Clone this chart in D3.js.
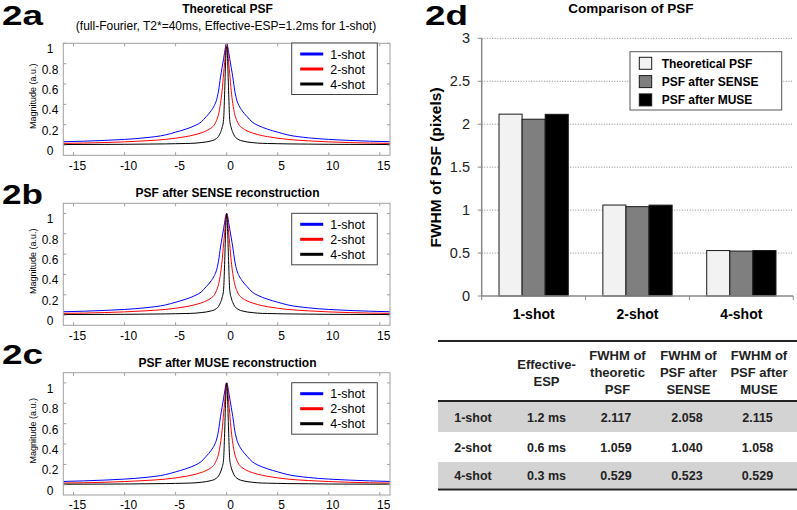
<!DOCTYPE html>
<html>
<head>
<meta charset="utf-8">
<script src="https://cdn.jsdelivr.net/npm/d3@7"></script>
<style>
  body { margin: 0; background: #fff; }
  svg { display: block; font-family: 'Liberation Sans', Arial, sans-serif; }
</style>
</head>
<body>
<svg id="fig" width="797" height="510"></svg>
<script>
// PSF profiles (same shape in all three panels)
const PSF_X = [-16, -12, -10, -8, -6, -5, -4, -3, -2.5, -2, -1.5, -1.2, -1, -0.8, -0.6, -0.45, -0.3, -0.2, -0.1, 0,
               0.1, 0.2, 0.3, 0.45, 0.6, 0.8, 1, 1.2, 1.5, 2, 2.5, 3, 4, 5, 6, 8, 10, 12, 16];
const PSF_1SHOT = [0.033, 0.046, 0.056, 0.072, 0.1, 0.127, 0.157, 0.197, 0.227, 0.28, 0.34, 0.39, 0.44, 0.53, 0.67, 0.76, 0.85, 0.91, 0.97, 1.0,
                   0.97, 0.91, 0.85, 0.76, 0.67, 0.53, 0.44, 0.39, 0.34, 0.28, 0.227, 0.197, 0.157, 0.127, 0.1, 0.072, 0.056, 0.046, 0.033];
const PSF_2SHOT = [0.017, 0.025, 0.032, 0.042, 0.056, 0.068, 0.083, 0.105, 0.12, 0.14, 0.17, 0.2, 0.24, 0.3, 0.41, 0.53, 0.7, 0.81, 0.93, 1.0,
                   0.93, 0.81, 0.7, 0.53, 0.41, 0.3, 0.24, 0.2, 0.17, 0.14, 0.12, 0.105, 0.083, 0.068, 0.056, 0.042, 0.032, 0.025, 0.017];
const PSF_4SHOT = [0.006, 0.007, 0.008, 0.01, 0.012, 0.014, 0.016, 0.02, 0.025, 0.031, 0.042, 0.052, 0.065, 0.085, 0.125, 0.17, 0.25, 0.5, 0.82, 1.0,
                   0.82, 0.5, 0.25, 0.17, 0.125, 0.085, 0.065, 0.052, 0.042, 0.031, 0.025, 0.02, 0.016, 0.014, 0.012, 0.01, 0.008, 0.007, 0.006];

const SHOTS = ['1-shot', '2-shot', '4-shot'];
const SHOT_COLORS = ['#0000ff', '#ff0000', '#000000'];
const X_TICKS = [-15, -10, -5, 0, 5, 10, 15];
const Y_TICKS = [0, 0.2, 0.4, 0.6, 0.8, 1];

// FWHM comparison (bar chart + table)
const METHODS = ['Theoretical PSF', 'PSF after SENSE', 'PSF after MUSE'];
const METHOD_FILLS = ['#f2f2f2', '#7f7f7f', '#000000'];
const FWHM_THEORY = [2.117, 1.059, 0.529];
const FWHM_SENSE = [2.058, 1.040, 0.523];
const FWHM_MUSE = [2.115, 1.058, 0.529];
const EFF_ESP = ['1.2 ms', '0.6 ms', '0.3 ms'];
const BAR_TICKS = [0, 0.5, 1, 1.5, 2, 2.5, 3];

const svg = d3.select('#fig');

// ---------- line panels 2a / 2b / 2c ----------
const PANELS = [
  { tag: '2a', tagY: 25, title: 'Theoretical PSF', titleY: 13,
    sub: '(full-Fourier, T2*=40ms, Effective-ESP=1.2ms for 1-shot)', subY: 29.5,
    top: 43.3, bottom: 155.3, ydom: [-0.1, 1], legTop: 43, xlab: 15 },
  { tag: '2b', tagY: 204, title: 'PSF after SENSE reconstruction', titleY: 197,
    top: 203.3, bottom: 325.3, ydom: [-0.1, 1.1], legTop: 213.3, xlab: 15 },
  { tag: '2c', tagY: 364, title: 'PSF after MUSE reconstruction', titleY: 366.5,
    top: 372.7, bottom: 495, ydom: [-0.1, 1.1], legTop: 382.7, xlab: 13.5 },
];
const L = 63.3, R = 390;
const series = [PSF_1SHOT, PSF_2SHOT, PSF_4SHOT];

PANELS.forEach(p => {
  const g = svg.append('g');
  const x = d3.scaleLinear().domain([-16, 16]).range([L, R]);
  const y = d3.scaleLinear().domain(p.ydom).range([p.bottom, p.top]);

  g.append('text').attr('x', 2).attr('y', p.tagY)
    .attr('font-size', 28).attr('font-weight', 'bold')
    .attr('textLength', 41).attr('lengthAdjust', 'spacingAndGlyphs').text(p.tag);
  g.append('text').attr('x', 227.5).attr('y', p.titleY).attr('text-anchor', 'middle')
    .attr('font-size', 12).attr('font-weight', 'bold').text(p.title);
  if (p.sub) {
    g.append('text').attr('x', 226).attr('y', p.subY).attr('text-anchor', 'middle')
      .attr('font-size', 12).text(p.sub);
  }

  // curves
  const line = d3.line().x((d, i) => x(PSF_X[i])).y(d => y(d)).curve(d3.curveMonotoneX);
  g.append('defs').append('clipPath').attr('id', 'clip' + p.tag)
    .append('rect').attr('x', L).attr('y', p.top).attr('width', R - L).attr('height', p.bottom - p.top);
  const cg = g.append('g').attr('clip-path', `url(#clip${p.tag})`);
  series.forEach((s, i) => {
    cg.append('path').datum(s).attr('d', line)
      .attr('fill', 'none').attr('stroke', SHOT_COLORS[i]).attr('stroke-width', 1);
  });

  // frame
  g.append('rect').attr('x', L).attr('y', p.top).attr('width', R - L).attr('height', p.bottom - p.top)
    .attr('fill', 'none').attr('stroke', '#a0a0a0').attr('stroke-width', 1);

  // ticks
  X_TICKS.forEach(t => {
    const xx = x(t);
    g.append('line').attr('x1', xx).attr('x2', xx).attr('y1', p.bottom).attr('y2', p.bottom - 3).attr('stroke', '#a0a0a0');
    g.append('line').attr('x1', xx).attr('x2', xx).attr('y1', p.top).attr('y2', p.top + 3).attr('stroke', '#a0a0a0');
    g.append('text').attr('x', xx + 4).attr('y', p.bottom + p.xlab).attr('text-anchor', 'middle')
      .attr('font-size', 12).text(t);
  });
  Y_TICKS.forEach(t => {
    const yy = y(t);
    g.append('line').attr('x1', L).attr('x2', L + 3).attr('y1', yy).attr('y2', yy).attr('stroke', '#a0a0a0');
    g.append('line').attr('x1', R).attr('x2', R - 3).attr('y1', yy).attr('y2', yy).attr('stroke', '#a0a0a0');
    g.append('text').attr('x', 50).attr('y', yy + 10).attr('text-anchor', 'middle')
      .attr('font-size', 12).text(t);
  });
  g.append('text').attr('transform', `translate(36,${(p.top + p.bottom) / 2 - 3}) rotate(-90)`)
    .attr('text-anchor', 'middle').attr('font-size', 9).text('Magnitude (a.u.)');

  // legend
  const lg = g.append('g').attr('transform', `translate(291.7,${p.legTop})`);
  lg.append('rect').attr('width', 85.6).attr('height', 51.5)
    .attr('fill', '#fff').attr('stroke', '#444').attr('stroke-width', 1);
  SHOTS.forEach((s, i) => {
    const ry = 11 + i * 15;
    lg.append('line').attr('x1', 8.5).attr('x2', 31.5).attr('y1', ry).attr('y2', ry)
      .attr('stroke', SHOT_COLORS[i]).attr('stroke-width', 3);
    lg.append('text').attr('x', 38.5).attr('y', ry + 4.5).attr('font-size', 12.5).text(s);
  });
});

// ---------- bar chart 2d ----------
const bx0 = 481.7, bx1 = 793.3, by0 = 296, by1 = 38.3;
const gb = svg.append('g');
gb.append('text').attr('x', 425).attr('y', 25).attr('font-size', 28).attr('font-weight', 'bold')
  .attr('textLength', 43).attr('lengthAdjust', 'spacingAndGlyphs').text('2d');
gb.append('text').attr('x', 631).attr('y', 13).attr('text-anchor', 'middle')
  .attr('font-size', 13.5).attr('font-weight', 'bold').text('Comparison of PSF');

const yb = d3.scaleLinear().domain([0, 3]).range([by0, by1]);
const xb = d3.scaleBand().domain(SHOTS).range([bx0, bx1]).paddingInner(0.333).paddingOuter(0.1667);
const xm = d3.scaleBand().domain(METHODS).range([0, xb.bandwidth()]);

BAR_TICKS.slice(1).forEach(t => {
  gb.append('line').attr('x1', bx0).attr('x2', bx1).attr('y1', yb(t)).attr('y2', yb(t))
    .attr('stroke', '#8a8a8a').attr('stroke-width', 1).attr('stroke-dasharray', '1,1.6');
});
BAR_TICKS.forEach(t => {
  gb.append('line').attr('x1', bx0 - 4).attr('x2', bx0).attr('y1', yb(t)).attr('y2', yb(t)).attr('stroke', '#888');
  gb.append('text').attr('x', 470).attr('y', yb(t) + 5).attr('text-anchor', 'end')
    .attr('font-size', 14.5).attr('fill', '#222').text(t);
});

const fwhm = [FWHM_THEORY, FWHM_SENSE, FWHM_MUSE];
const bars = [];
SHOTS.forEach((s, i) => METHODS.forEach((m, j) => bars.push({ s, m, j, v: fwhm[j][i] })));
gb.selectAll('rect.bar').data(bars).join('rect').attr('class', 'bar')
  .attr('x', d => xb(d.s) + xm(d.m)).attr('width', xm.bandwidth())
  .attr('y', d => yb(d.v)).attr('height', d => by0 - yb(d.v))
  .attr('fill', d => METHOD_FILLS[d.j]).attr('stroke', '#1a1a1a').attr('stroke-width', 1);

gb.append('line').attr('x1', bx0).attr('x2', bx0).attr('y1', by1).attr('y2', by0)
  .attr('stroke', '#888').attr('stroke-width', 1.5);
gb.append('line').attr('x1', bx0).attr('x2', bx1).attr('y1', by0).attr('y2', by0)
  .attr('stroke', '#888').attr('stroke-width', 1.5);
[bx0, ...SHOTS.map(s => xb(s) + xb.bandwidth() + xb.step() * xb.paddingInner() / 2)].forEach(xx => {
  gb.append('line').attr('x1', xx).attr('x2', xx).attr('y1', by0).attr('y2', by0 + 4).attr('stroke', '#888');
});
SHOTS.forEach(s => {
  gb.append('text').attr('x', xb(s) + xb.bandwidth() / 2).attr('y', 318.5).attr('text-anchor', 'middle')
    .attr('font-size', 14).attr('font-weight', 'bold').text(s);
});
gb.append('text').attr('transform', `translate(441,167.5) rotate(-90)`).attr('text-anchor', 'middle')
  .attr('font-size', 15.5).attr('font-weight', 'bold').text('FWHM of PSF (pixels)');

// legend
const blg = gb.append('g').attr('transform', 'translate(630,51.7)');
blg.append('rect').attr('width', 151.7).attr('height', 58.3).attr('fill', '#fff').attr('stroke', '#555');
METHODS.forEach((m, j) => {
  const ry = 11.6 + j * 18.3;
  blg.append('rect').attr('x', 9.3).attr('y', ry - 6).attr('width', 12.4).attr('height', 12)
    .attr('fill', METHOD_FILLS[j]).attr('stroke', '#1a1a1a');
  blg.append('text').attr('x', 31.7).attr('y', ry + 4.3).attr('font-size', 12).attr('font-weight', 'bold').text(m);
});

// ---------- table ----------
const gt = svg.append('g').attr('font-weight', 'bold');
const COLS = [473, 546.5, 617.5, 688.5, 759];
const HEADERS = [[], ['Effective-', 'ESP'], ['FWHM of', 'theoretic', 'PSF'],
                 ['FWHM of', 'PSF after', 'SENSE'], ['FWHM of', 'PSF after', 'MUSE']];
const ROW_Y = [417, 447, 475.5];
const fmt = d3.format('.3f');

gt.append('rect').attr('x', 438).attr('y', 402).attr('width', 359).attr('height', 30).attr('fill', '#d3d3d3');
gt.append('rect').attr('x', 438).attr('y', 462).attr('width', 359).attr('height', 26.5).attr('fill', '#d3d3d3');
[[341, 2], [401, 2], [489.5, 2]].forEach(([yy, w]) => {
  gt.append('line').attr('x1', 438).attr('x2', 797).attr('y1', yy).attr('y2', yy)
    .attr('stroke', '#222').attr('stroke-width', w);
});
HEADERS.forEach((h, c) => {
  h.forEach((t, k) => {
    const yy = 372.5 + (k - (h.length - 1) / 2) * 17 + 4.5;
    gt.append('text').attr('x', COLS[c]).attr('y', yy).attr('text-anchor', 'middle')
      .attr('font-size', 13).attr('fill', '#222').text(t);
  });
});
SHOTS.forEach((s, i) => {
  const cells = [s, EFF_ESP[i], fmt(FWHM_THEORY[i]), fmt(FWHM_SENSE[i]), fmt(FWHM_MUSE[i])];
  cells.forEach((t, c) => {
    gt.append('text').attr('x', COLS[c] - (c >= 2 ? 1.5 : 0)).attr('y', ROW_Y[i] + 4.5)
      .attr('text-anchor', 'middle').attr('font-size', 12.5).attr('fill', '#222').text(t);
  });
});
</script>
</body>
</html>
